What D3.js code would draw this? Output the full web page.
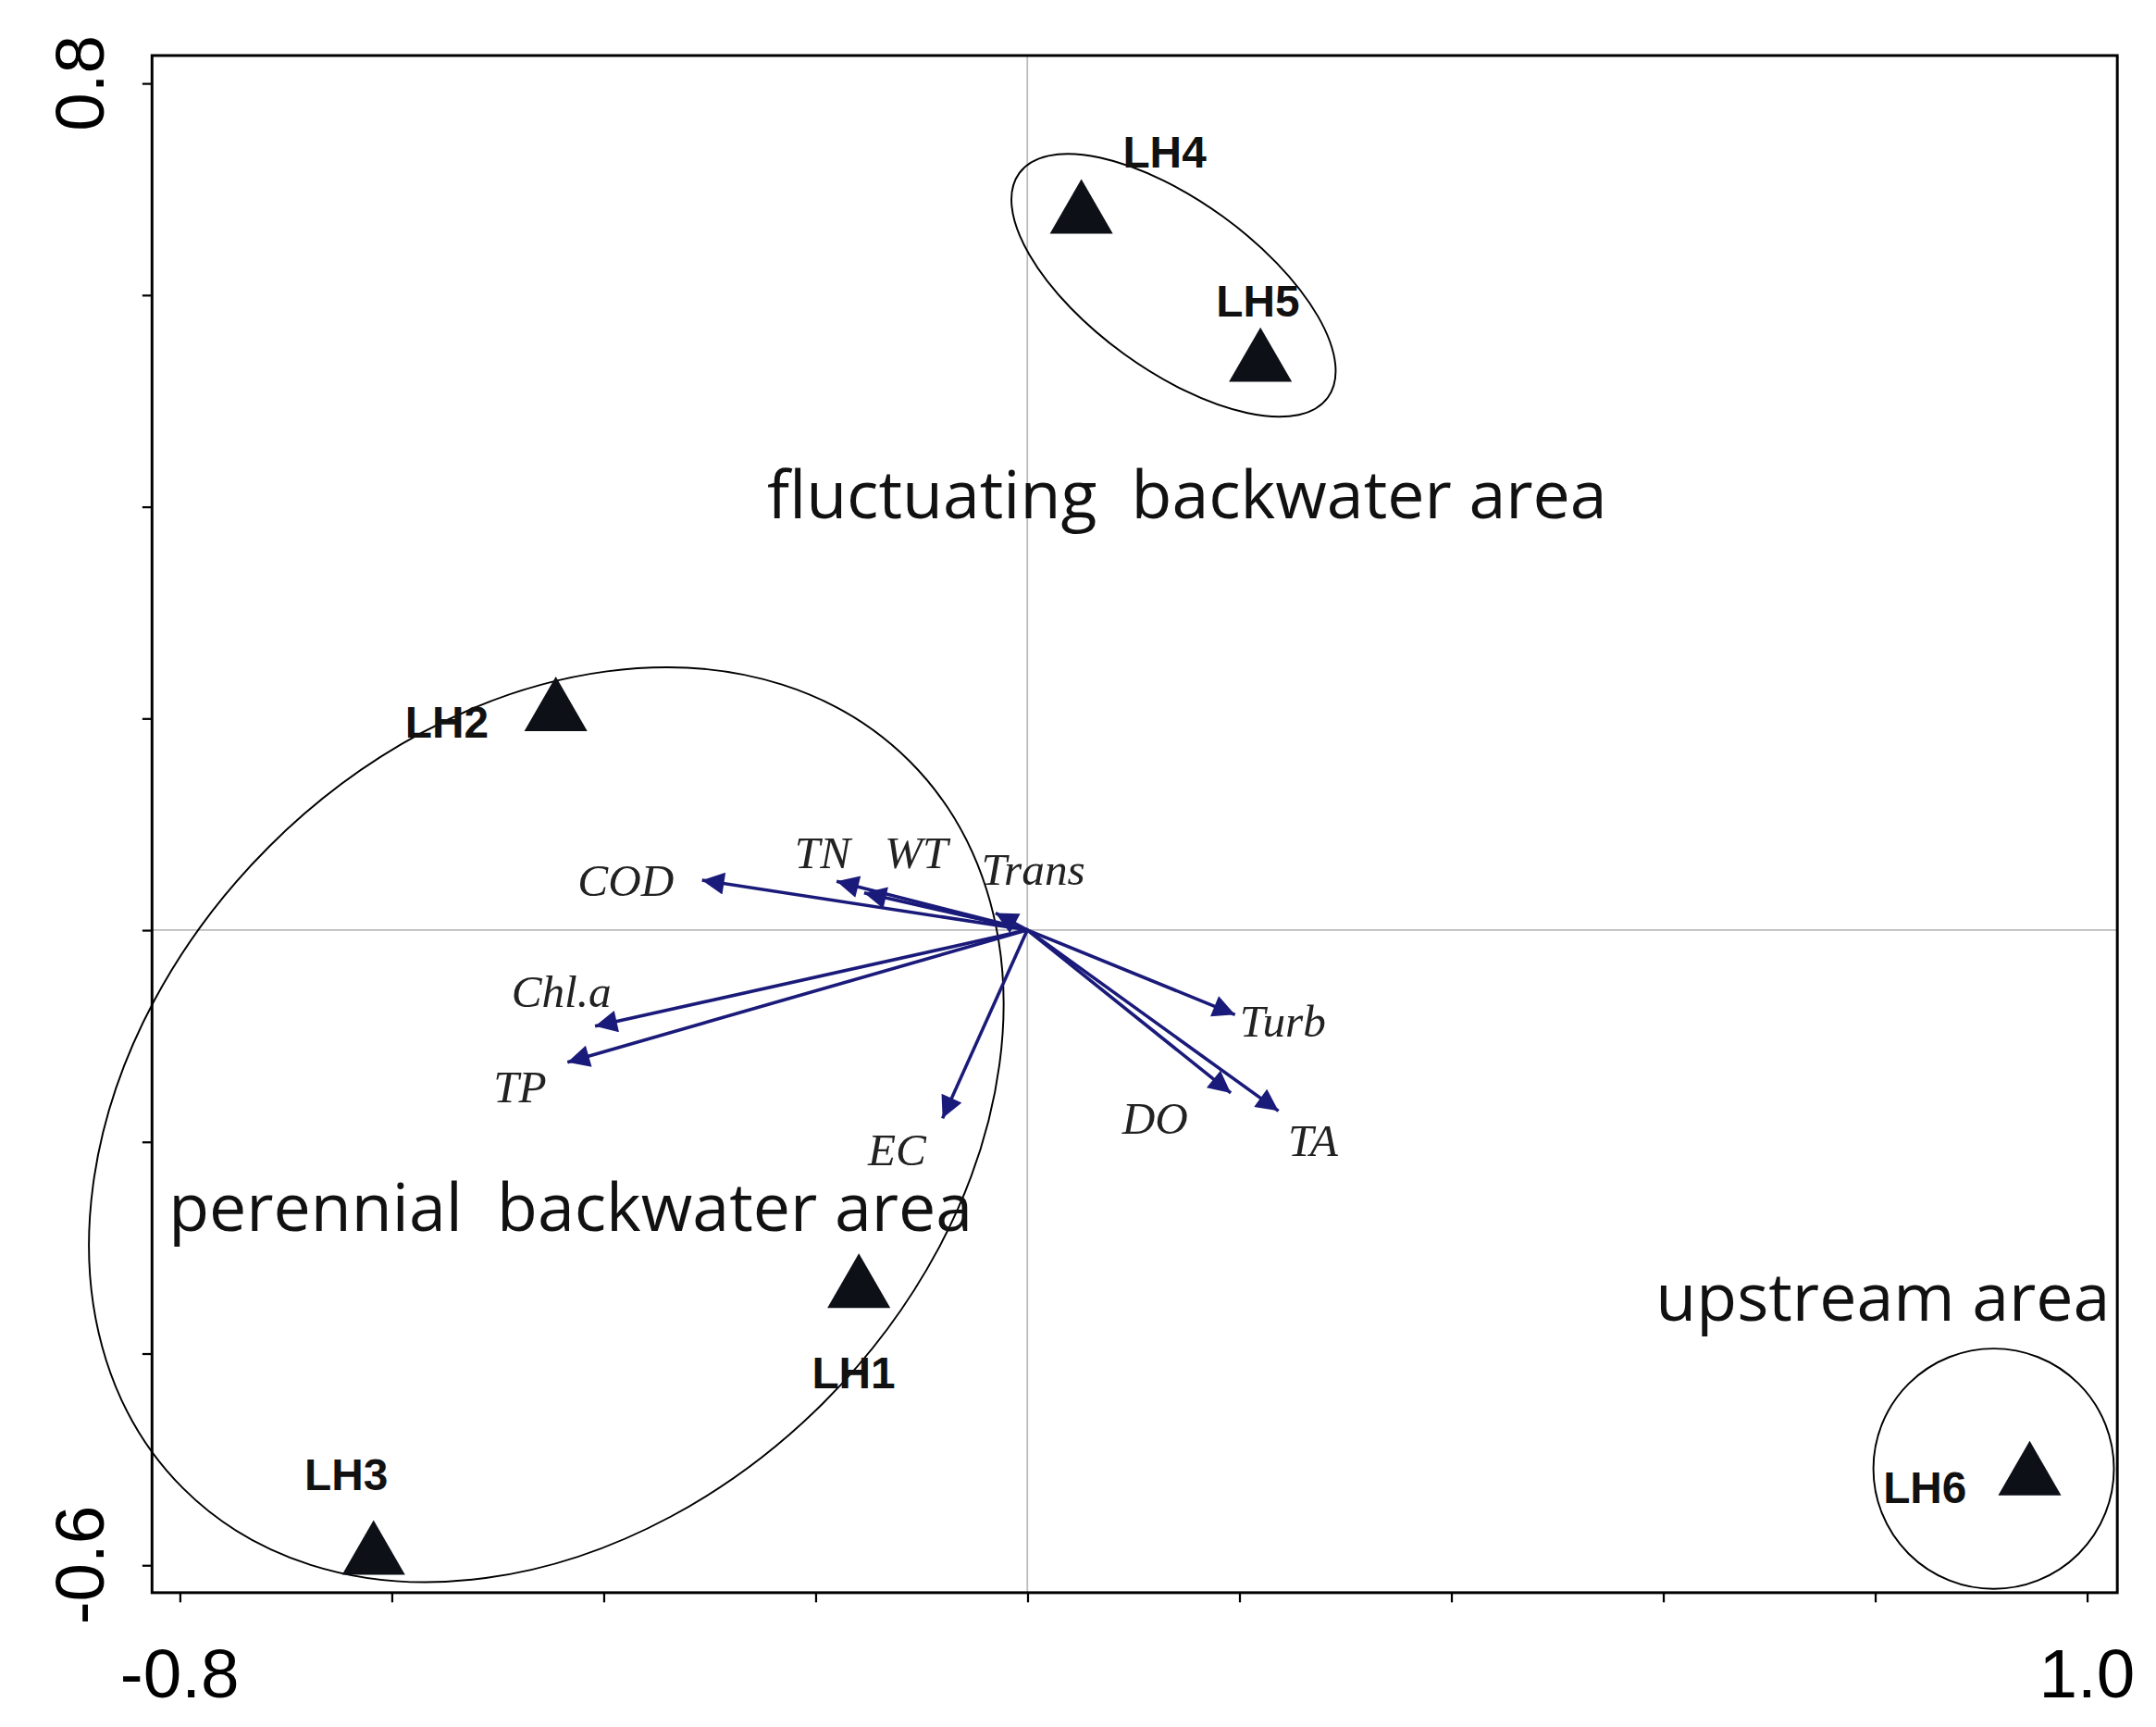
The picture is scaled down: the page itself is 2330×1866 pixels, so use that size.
<!DOCTYPE html>
<html><head><meta charset="utf-8">
<script src="https://cdn.jsdelivr.net/npm/d3@7"></script>
<style>body{margin:0;background:#fff}</style>
</head><body>
<svg id="chart" width="2330" height="1866" viewBox="0 0 1560 1249"></svg>
<script>
// sites (ordination scores)
const sites = ['LH1', 'LH2', 'LH3', 'LH4', 'LH5', 'LH6']
const siteX = [-0.159, -0.445, -0.617, 0.051, 0.220, 0.946]
const siteY = [-0.340, 0.205, -0.592, 0.675, 0.535, -0.517]

// environmental variables
const envVars = ['COD', 'TN', 'WT', 'Trans', 'Chl.a', 'TP', 'EC', 'Turb', 'DO', 'TA']
const envX = [-0.307, -0.180, -0.154, -0.030, -0.408, -0.434, -0.080, 0.196, 0.192, 0.237]
const envY = [0.047, 0.046, 0.035, 0.016, -0.091, -0.125, -0.178, -0.080, -0.154, -0.171]

// groups: centre, radii (data units), rotation
const groupNames = ['fluctuating  backwater area', 'perennial  backwater area', 'upstream area']
const groupCx = [0.138, -0.454, 0.912]
const groupCy = [0.609, -0.184, -0.509]
const groupRx = [0.180, 0.485, 0.1135]
const groupRy = [0.080, 0.371, 0.1135]
const groupRot = [36, -45, 0]

const xTicks = [-0.8, -0.6, -0.4, -0.2, 0, 0.2, 0.4, 0.6, 0.8, 1.0]
const yTicks = [-0.6, -0.4, -0.2, 0, 0.2, 0.4, 0.6, 0.8]

// label offsets (pixels) and text anchor points
const siteLabelOff = [[-34, 71], [-109, 18], [-50, -48], [30, -35], [-32, -34], [-106, 19]]
const envLabelPos = [[418, 648], [575, 628], [640, 628], [710, 640], [370, 728], [357, 797], [628, 843], [897, 750], [812, 820], [932, 836]]
const groupLabelPos = [[555, 375], [122, 890], [1198, 955]]

const frame = { left: 110, right: 1532, top: 40, bottom: 1152 }
const x = d3.scaleLinear().domain([-0.8, 1.0]).range([130, 1510])
const y = d3.scaleLinear().domain([-0.6, 0.8]).range([1132, 60])

const svg = d3.select('#chart')

// zero lines
svg.append('line').attr('x1', x(0)).attr('x2', x(0)).attr('y1', frame.top).attr('y2', frame.bottom)
  .attr('stroke', '#bbb').attr('stroke-width', 1.2)
svg.append('line').attr('y1', y(0)).attr('y2', y(0)).attr('x1', frame.left).attr('x2', frame.right)
  .attr('stroke', '#bbb').attr('stroke-width', 1.2)

// axes
svg.append('g').attr('transform', `translate(0,${frame.bottom})`)
  .call(d3.axisBottom(x).tickValues(xTicks).tickSize(7).tickFormat(''))
  .call(g => g.select('.domain').remove())
svg.append('g').attr('transform', `translate(${frame.left},0)`)
  .call(d3.axisLeft(y).tickValues(yTicks).tickSize(7).tickFormat(''))
  .call(g => g.select('.domain').remove())
svg.selectAll('.tick line').attr('stroke', '#000').attr('stroke-width', 1.5)

svg.append('rect').attr('x', frame.left).attr('y', frame.top)
  .attr('width', frame.right - frame.left).attr('height', frame.bottom - frame.top)
  .attr('fill', 'none').attr('stroke', '#000').attr('stroke-width', 2)

const tickFont = 'Liberation Sans, Arial, sans-serif'
svg.append('text').attr('x', x(-0.8)).attr('y', 1228).attr('text-anchor', 'middle')
  .attr('font-family', tickFont).attr('font-size', 50).text('-0.8')
svg.append('text').attr('x', x(1.0)).attr('y', 1228).attr('text-anchor', 'middle')
  .attr('font-family', tickFont).attr('font-size', 50).text('1.0')
svg.append('text').attr('transform', `translate(75,${y(0.8)}) rotate(-90)`).attr('text-anchor', 'middle')
  .attr('font-family', tickFont).attr('font-size', 50).text('0.8')
svg.append('text').attr('transform', `translate(75,${y(-0.6)}) rotate(-90)`).attr('text-anchor', 'middle')
  .attr('font-family', tickFont).attr('font-size', 50).text('-0.6')

// group ellipses
const pxPerX = x(1) - x(0), pxPerY = y(0) - y(1)
groupNames.forEach((name, i) => {
  svg.append('ellipse')
    .attr('transform', `translate(${x(groupCx[i])},${y(groupCy[i])}) rotate(${groupRot[i]})`)
    .attr('rx', groupRx[i] * pxPerX).attr('ry', groupRy[i] * pxPerY)
    .attr('fill', 'none').attr('stroke', '#000').attr('stroke-width', 1.3)
  svg.append('text').attr('x', groupLabelPos[i][0]).attr('y', groupLabelPos[i][1])
    .attr('font-family', 'Open Sans, Noto Sans, sans-serif').attr('font-size', 48)
    .style('white-space', 'pre').attr('fill', '#111').text(name)
})

// arrows
svg.append('defs').append('marker').attr('id', 'head')
  .attr('viewBox', '0 0 10 10').attr('refX', 10).attr('refY', 5)
  .attr('markerWidth', 24).attr('markerHeight', 16).attr('markerUnits', 'userSpaceOnUse')
  .attr('orient', 'auto')
  .append('path').attr('d', 'M0,0 L10,5 L0,10 z').attr('fill', '#1a1a7a')

envVars.forEach((v, i) => {
  svg.append('line').attr('x1', x(0)).attr('y1', y(0)).attr('x2', x(envX[i])).attr('y2', y(envY[i]))
    .attr('stroke', '#1a1a7a').attr('stroke-width', 2.4).attr('marker-end', 'url(#head)')
  svg.append('text').attr('x', envLabelPos[i][0]).attr('y', envLabelPos[i][1])
    .attr('font-family', 'Liberation Serif, Times New Roman, serif').attr('font-style', 'italic')
    .attr('font-size', 33).attr('fill', '#222').text(v)
})

// sites
const tri = d3.symbol().type(d3.symbolTriangle).size(900)
sites.forEach((s, i) => {
  svg.append('path').attr('d', tri).attr('transform', `translate(${x(siteX[i])},${y(siteY[i])})`)
    .attr('fill', '#0d1117')
  svg.append('text').attr('x', x(siteX[i]) + siteLabelOff[i][0]).attr('y', y(siteY[i]) + siteLabelOff[i][1])
    .attr('font-family', 'Liberation Sans, Arial, sans-serif').attr('font-weight', 'bold')
    .attr('font-size', 32).attr('fill', '#111').text(s)
})
</script>
</body></html>
